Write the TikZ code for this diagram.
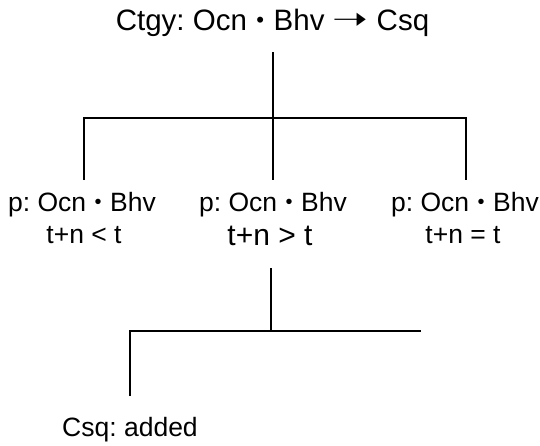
\documentclass[tikz,border=0pt]{standalone}
\usepackage{fontspec}
\usepackage{graphicx}
\setmainfont{Liberation Sans}
\newfontfamily\symfont{DejaVu Sans}
\frenchspacing
% small centred dot and triangle-headed arrow used in the formulas
\newcommand{\bul}{\makebox[0.35em]{\raisebox{0.1em}{\scalebox{0.75}{•}}}}
\newcommand{\impl}{\raisebox{0.02em}{\symfont\scalebox{1.45}[1.05]{➝}}}
\begin{document}
\begin{tikzpicture}[x=1pt,y=-1pt,
  branch/.style={line width=2pt,line join=miter,line cap=butt},
  lbl/.style={inner sep=0pt,anchor=base,font=\fontsize{26.5}{30}\selectfont},
  head/.style={inner sep=0pt,anchor=base,font=\fontsize{29.5}{34}\selectfont},
  big/.style={inner sep=0pt,anchor=base,font=\fontsize{30}{36}\selectfont}]
\useasboundingbox (0,0) rectangle (540,445);

% root statement
\node[head] (root) at (272.5,30) {Ctgy: Ocn \bul{} Bhv \impl{} Csq};

% first level of cases
\node[lbl] (p1) at (82,211) {p: Ocn \bul{} Bhv};
\node[lbl] (r1) at (84,243) {t+n < t};
\node[lbl] (p2) at (273,211) {p: Ocn \bul{} Bhv};
\node[big] (r2) at (270,245) {t+n > t};
\node[lbl] (p3) at (465,211) {p: Ocn \bul{} Bhv};
\node[lbl] (r3) at (463,243) {t+n = t};

% consequence
\node[lbl] (csq) at (130,436) {Csq: added};

% upper branching
\coordinate (s0) at (273,52);
\coordinate (j0) at (273,118);
\coordinate (a1) at (84,180);
\coordinate (k1) at (84,118);
\coordinate (k3) at (466,118);
\coordinate (a3) at (466,180);
\coordinate (a2) at (273,180);
\draw[branch] (s0) -- (a2);
\draw[branch] (a1) -- (k1) -- (k3) -- (a3);

% lower branching
\coordinate (s1) at (271,268);
\coordinate (j1) at (271,331);
\coordinate (k4) at (130,331);
\coordinate (a4) at (130,396);
\coordinate (e5) at (421,331);
\draw[branch] (s1) -- (j1);
\draw[branch] (a4) -- (k4) -- (e5);
\end{tikzpicture}
\end{document}
